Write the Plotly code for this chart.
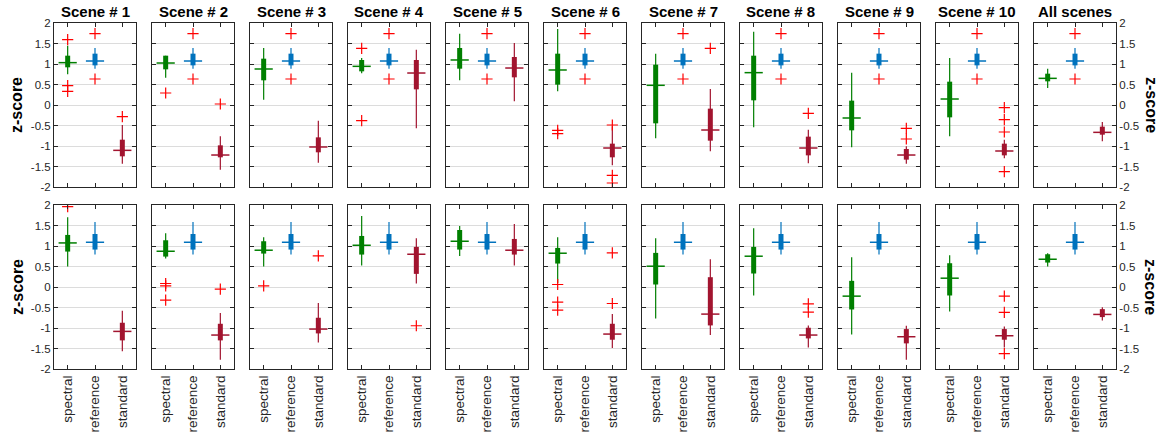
import plotly.graph_objects as go
from plotly.subplots import make_subplots

methods = ["spectral", "reference", "standard"]
scenes = ["Scene # 1", "Scene # 2", "Scene # 3", "Scene # 4", "Scene # 5", "Scene # 6",
          "Scene # 7", "Scene # 8", "Scene # 9", "Scene # 10", "All scenes"]
y_tickvals = [2, 1.5, 1, 0.5, 0, -0.5, -1, -1.5, -2]
y_ticktext = ["2", "1.5", "1", "0.5", "0", "-0.5", "-1", "-1.5", "-2"]

# ---------- Row 1 ----------
r1_spectral_lo = [0.748, 0.667, 0.13, 0.772, 0.602, 0.333, -0.813, -0.545, -1.033, -0.764, 0.415]
r1_spectral_q1 = [0.919, 0.870, 0.602, 0.821, 0.886, 0.496, -0.447, 0.114, -0.618, -0.301, 0.577]
r1_spectral_med = [1.033, 1.024, 0.878, 0.943, 1.098, 0.854, 0.48, 0.789, -0.317, 0.146, 0.65]
r1_spectral_q3 = [1.203, 1.203, 1.13, 1.098, 1.39, 1.252, 0.984, 1.203, 0.106, 0.569, 0.764]
r1_spectral_hi = [1.447, 1.203, 1.39, 1.146, 1.74, 1.854, 1.252, 1.789, 0.789, 1.146, 0.886]
r1_spectral_out = [[1.593, 0.472, 0.333], [0.293], [], [1.382, -0.382], [], [-0.62, -0.70],
                   [], [], [], [], []]

r1_reference_lo = [0.886] * 11
r1_reference_q1 = [0.967] * 11
r1_reference_med = [1.073] * 11
r1_reference_q3 = [1.252] * 11
r1_reference_hi = [1.39] * 11
r1_reference_out = [[1.74, 0.634] for _ in range(11)]

r1_standard_lo = [-1.431, -1.577, -1.407, -0.569, 0.089, -1.472, -1.13, -1.423, -1.431, -1.30, -0.886]
r1_standard_q1 = [-1.252, -1.276, -1.154, 0.382, 0.675, -1.276, -0.87, -1.228, -1.333, -1.228, -0.724]
r1_standard_med = [-1.106, -1.22, -1.024, 0.78, 0.902, -1.049, -0.61, -1.049, -1.22, -1.122, -0.667]
r1_standard_q3 = [-0.846, -0.984, -0.789, 1.098, 1.171, -0.943, -0.089, -0.772, -1.073, -0.943, -0.528]
r1_standard_hi = [-0.488, -0.764, -0.382, 1.35, 1.512, -0.52, 0.39, -0.602, -1.008, -0.846, -0.415]
r1_standard_out = [[-0.285], [0.024], [], [], [], [-0.488, -1.715, -1.902], [1.382], [-0.203],
                   [-0.569, -0.829], [-0.065, -0.358, -0.659, -1.626], []]

# ---------- Row 2 ----------
r2_spectral_lo = [0.499, 0.694, 0.499, 0.523, 0.759, 0.10, -0.767, -0.207, -1.156, -0.596, 0.499]
r2_spectral_q1 = [0.864, 0.742, 0.815, 0.791, 0.913, 0.572, 0.061, 0.329, -0.548, -0.207, 0.596]
r2_spectral_med = [1.075, 0.872, 0.897, 1.018, 1.116, 0.824, 0.507, 0.751, -0.223, 0.215, 0.677]
r2_spectral_q3 = [1.27, 1.14, 1.116, 1.245, 1.391, 0.953, 0.832, 0.978, 0.15, 0.58, 0.799]
r2_spectral_hi = [1.70, 1.31, 1.213, 1.732, 1.489, 1.213, 1.189, 1.432, 0.726, 0.775, 0.824]
r2_spectral_out = [[1.96], [0.085, 0.028, -0.32], [0.028], [], [], [0.061, -0.369, -0.564],
                   [], [], [], [], []]

r2_reference_lo = [0.79] * 11
r2_reference_q1 = [0.913] * 11
r2_reference_med = [1.091] * 11
r2_reference_q3 = [1.293] * 11
r2_reference_hi = [1.585] * 11
r2_reference_out = [[] for _ in range(11)]

r2_standard_lo = [-1.57, -1.773, -1.351, 0.085, 0.523, -1.489, -1.172, -1.473, -1.773, -1.473, -0.815]
r2_standard_q1 = [-1.302, -1.302, -1.132, 0.32, 0.791, -1.286, -0.937, -1.254, -1.375, -1.286, -0.734]
r2_standard_med = [-1.083, -1.172, -1.026, 0.799, 0.897, -1.148, -0.661, -1.172, -1.213, -1.189, -0.669]
r2_standard_q3 = [-0.872, -0.897, -0.75, 0.978, 1.172, -0.897, 0.239, -0.994, -1.026, -1.026, -0.54]
r2_standard_hi = [-0.58, -0.637, -0.393, 1.189, 1.538, -0.661, 0.677, -0.937, -0.945, -0.961, -0.491]
r2_standard_out = [[], [-0.053], [0.759], [-0.945], [], [0.832, -0.402], [], [-0.41, -0.613],
                   [], [-0.223, -0.621, -1.627], []]

rows = {
    1: {
        "spectral": (r1_spectral_lo, r1_spectral_q1, r1_spectral_med, r1_spectral_q3, r1_spectral_hi, r1_spectral_out),
        "reference": (r1_reference_lo, r1_reference_q1, r1_reference_med, r1_reference_q3, r1_reference_hi, r1_reference_out),
        "standard": (r1_standard_lo, r1_standard_q1, r1_standard_med, r1_standard_q3, r1_standard_hi, r1_standard_out),
    },
    2: {
        "spectral": (r2_spectral_lo, r2_spectral_q1, r2_spectral_med, r2_spectral_q3, r2_spectral_hi, r2_spectral_out),
        "reference": (r2_reference_lo, r2_reference_q1, r2_reference_med, r2_reference_q3, r2_reference_hi, r2_reference_out),
        "standard": (r2_standard_lo, r2_standard_q1, r2_standard_med, r2_standard_q3, r2_standard_hi, r2_standard_out),
    },
}
colors = {"spectral": "#007F00", "reference": "#0072BD", "standard": "#A2142F"}
out_color = "#FF0000"
axis_color = "#262626"
FONT = "Liberation Sans, Arial, sans-serif"

W, H = 1162, 436
ML, MR, MT, MB = 54, 46, 23, 67
PW = W - ML - MR
PH = H - MT - MB

fig = make_subplots(rows=2, cols=11, horizontal_spacing=16 / PW, vertical_spacing=18 / PH,
                    subplot_titles=[f"<b>{s}</b>" for s in scenes] + [""] * 11)

for r in (1, 2):
    for c in range(1, 12):
        i = c - 1
        for m in methods:
            lo, q1, med, q3, hi, out = rows[r][m]
            col = colors[m]
            fig.add_trace(go.Scatter(x=[m, m], y=[lo[i], hi[i]], mode="lines",
                                     line=dict(color=col, width=1.2), hoverinfo="skip",
                                     showlegend=False), row=r, col=c)
            fig.add_trace(go.Scatter(x=[m, m], y=[q1[i], q3[i]], mode="lines",
                                     line=dict(color=col, width=5), hoverinfo="skip",
                                     showlegend=False), row=r, col=c)
            fig.add_trace(go.Scatter(x=[m], y=[med[i]], mode="markers",
                                     marker=dict(symbol="line-ew", size=13,
                                                 line=dict(color=col, width=1.5)),
                                     hoverinfo="skip", showlegend=False), row=r, col=c)
            if out[i]:
                fig.add_trace(go.Scatter(x=[m] * len(out[i]), y=out[i], mode="markers",
                                         marker=dict(symbol="cross-thin", size=8,
                                                     line=dict(color=out_color, width=1.2)),
                                         hoverinfo="skip", showlegend=False), row=r, col=c)

        fig.update_xaxes(row=r, col=c, type="category", categoryorder="array",
                         categoryarray=methods, range=[-0.5, 2.5], automargin=False,
                         showline=True, mirror="ticks", linecolor=axis_color, linewidth=1,
                         ticks="inside", ticklen=4, tickcolor=axis_color, tickwidth=1,
                         showgrid=False, zeroline=False,
                         showticklabels=(r == 2), tickangle=-90,
                         tickfont=dict(family=FONT, size=13.5, color=axis_color))
        fig.update_yaxes(row=r, col=c, range=[-2, 2], tickvals=y_tickvals, ticktext=y_ticktext,
                         automargin=False,
                         showline=True, mirror="ticks", linecolor=axis_color, linewidth=1,
                         ticks="inside", ticklen=4, tickcolor=axis_color, tickwidth=1,
                         showgrid=True, gridcolor="#DCDCDC", gridwidth=1, zeroline=False,
                         showticklabels=(c == 1 or c == 11),
                         side=("right" if c == 11 else "left"),
                         tickfont=dict(family=FONT, size=11.5, color=axis_color))

fig.update_annotations(font=dict(family=FONT, size=15, color="#000000"), yshift=1)

row_centers = [1 - 82 / PH, 82 / PH]
for yc in row_centers:
    fig.add_annotation(text="<b>z-score</b>", xref="paper", yref="paper",
                       x=(17 - ML) / PW, y=yc, textangle=-90, showarrow=False,
                       xanchor="center", yanchor="middle",
                       font=dict(family=FONT, size=16, color="#000000"))
    fig.add_annotation(text="<b>z-score</b>", xref="paper", yref="paper",
                       x=(1151 - ML) / PW, y=yc, textangle=90, showarrow=False,
                       xanchor="center", yanchor="middle",
                       font=dict(family=FONT, size=16, color="#000000"))

fig.update_layout(width=W, height=H, autosize=False,
                  margin=dict(l=ML, r=MR, t=MT, b=MB, autoexpand=False),
                  plot_bgcolor="white", paper_bgcolor="white",
                  font=dict(family=FONT, color=axis_color))

fig.write_html("out.html", config={"displayModeBar": False},
               post_script="document.body.style.margin='0';document.body.style.padding='0';"
                           "document.body.style.overflow='hidden';")
